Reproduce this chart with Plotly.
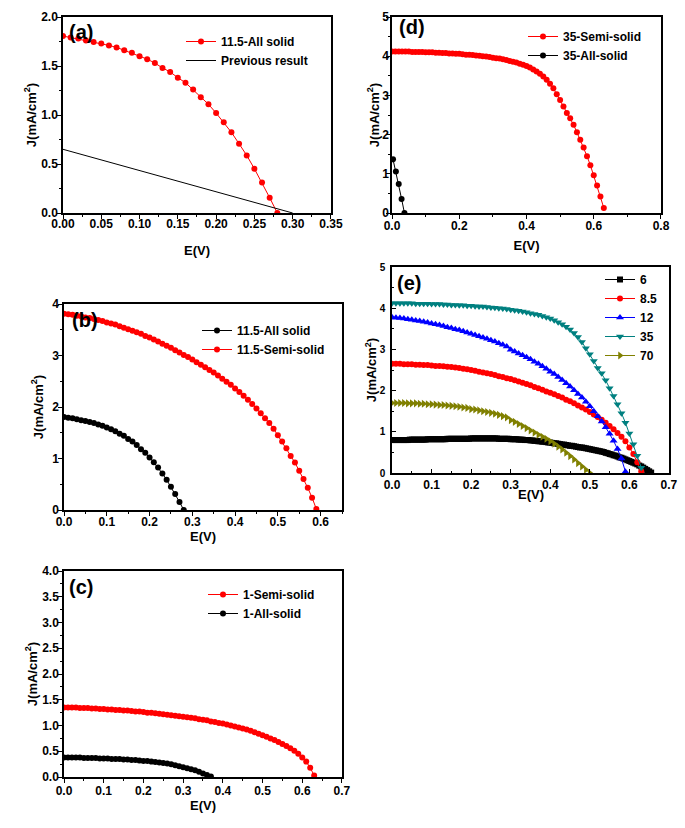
import plotly.graph_objects as go

# ---------------- data ----------------
# (a) 11.5-All solid
a_x = [i / 100 for i in range(29)]
a_j = [1.806, 1.79, 1.78, 1.76, 1.745, 1.73, 1.71, 1.69, 1.66, 1.635,
       1.60, 1.57, 1.53, 1.48, 1.44, 1.38, 1.33, 1.26, 1.18, 1.11,
       1.02, 0.925, 0.823, 0.707, 0.588, 0.452, 0.31, 0.156, 0.0]
prev_x = [0.0, 0.30]
prev_j = [0.65, 0.0]

# (b) 11.5-Semi-solid
b_semi_x = [i / 100 for i in range(60)]
b_semi_j = [3.81, 3.80, 3.79, 3.77, 3.76, 3.74, 3.73, 3.71, 3.69, 3.67,
            3.64, 3.62, 3.60, 3.57, 3.54, 3.51, 3.48, 3.45, 3.42, 3.38,
            3.35, 3.31, 3.27, 3.23, 3.19, 3.15, 3.10, 3.06, 3.01, 2.97,
            2.92, 2.87, 2.82, 2.77, 2.72, 2.67, 2.61, 2.55, 2.49, 2.43,
            2.36, 2.29, 2.22, 2.14, 2.06, 1.97, 1.88, 1.78, 1.69, 1.58,
            1.45, 1.33, 1.20, 1.05, 0.92, 0.76, 0.60, 0.43, 0.24, 0.02]

# (c)
c_semi_x = [i / 100 for i in range(64)]
c_semi_j = [1.35, 1.35, 1.35, 1.35, 1.34, 1.34, 1.34, 1.33, 1.33, 1.32,
            1.32, 1.31, 1.31, 1.30, 1.30, 1.29, 1.29, 1.28, 1.27, 1.27,
            1.26, 1.25, 1.25, 1.24, 1.23, 1.22, 1.21, 1.20, 1.19, 1.18,
            1.17, 1.16, 1.15, 1.14, 1.12, 1.11, 1.10, 1.08, 1.07, 1.05,
            1.04, 1.02, 1.00, 0.98, 0.96, 0.94, 0.92, 0.90, 0.87, 0.84,
            0.81, 0.78, 0.75, 0.72, 0.68, 0.64, 0.60, 0.56, 0.51, 0.45,
            0.38, 0.30, 0.18, 0.03]
c_all_x = [i / 100 for i in range(38)]
c_all_j = [0.38, 0.38, 0.38, 0.38, 0.38, 0.37, 0.37, 0.37, 0.37, 0.36,
           0.36, 0.36, 0.35, 0.35, 0.35, 0.34, 0.34, 0.33, 0.33, 0.32,
           0.31, 0.31, 0.30, 0.29, 0.28, 0.27, 0.26, 0.25, 0.23, 0.21,
           0.19, 0.17, 0.15, 0.13, 0.10, 0.07, 0.04, 0.01]

# (d) / (e) 35
d_semi_x = [i / 100 for i in range(64)]
d_semi_j = [4.12, 4.12, 4.12, 4.12, 4.12, 4.12, 4.11, 4.11, 4.11, 4.11,
            4.10, 4.10, 4.10, 4.09, 4.09, 4.08, 4.08, 4.07, 4.07, 4.06,
            4.06, 4.05, 4.04, 4.04, 4.03, 4.02, 4.01, 4.00, 3.99, 3.98,
            3.96, 3.95, 3.94, 3.92, 3.90, 3.88, 3.86, 3.84, 3.81, 3.78,
            3.75, 3.71, 3.66, 3.61, 3.55, 3.48, 3.40, 3.30, 3.18, 3.03,
            2.88, 2.72, 2.55, 2.42, 2.25, 2.06, 1.87, 1.67, 1.45, 1.22,
            0.96, 0.70, 0.42, 0.13]
d_all_x = [0.003, 0.0115, 0.02, 0.0285, 0.037]
d_all_j = [1.37, 1.06, 0.74, 0.36, 0.0]

# (e)
e6_x = [i / 200 for i in range(132)]
e6_j = [0.80, 0.80, 0.80, 0.80, 0.80, 0.80, 0.80, 0.80, 0.80, 0.81,
        0.81, 0.81, 0.81, 0.81, 0.81, 0.81, 0.81, 0.81, 0.82, 0.82,
        0.82, 0.82, 0.82, 0.82, 0.82, 0.82, 0.82, 0.82, 0.83, 0.83,
        0.83, 0.83, 0.83, 0.83, 0.83, 0.83, 0.83, 0.83, 0.83, 0.83,
        0.84, 0.84, 0.84, 0.84, 0.84, 0.84, 0.84, 0.84, 0.84, 0.84,
        0.84, 0.84, 0.84, 0.84, 0.83, 0.83, 0.83, 0.83, 0.83, 0.83,
        0.82, 0.82, 0.82, 0.82, 0.81, 0.81, 0.81, 0.80, 0.80, 0.80,
        0.79, 0.79, 0.78, 0.78, 0.77, 0.77, 0.76, 0.76, 0.75, 0.74,
        0.74, 0.73, 0.72, 0.72, 0.71, 0.70, 0.69, 0.69, 0.68, 0.67,
        0.66, 0.66, 0.65, 0.64, 0.63, 0.62, 0.62, 0.61, 0.60, 0.59,
        0.58, 0.57, 0.56, 0.55, 0.54, 0.53, 0.52, 0.51, 0.49, 0.48,
        0.46, 0.45, 0.43, 0.42, 0.40, 0.38, 0.37, 0.35, 0.33, 0.31,
        0.29, 0.27, 0.25, 0.23, 0.21, 0.18, 0.16, 0.13, 0.10, 0.07,
        0.04, 0.01]
e85_x = [i / 100 for i in range(64)]
e85_j = [2.65, 2.65, 2.65, 2.64, 2.64, 2.64, 2.63, 2.63, 2.62, 2.62,
         2.61, 2.60, 2.60, 2.59, 2.58, 2.57, 2.56, 2.55, 2.53, 2.52,
         2.50, 2.48, 2.46, 2.44, 2.42, 2.40, 2.38, 2.35, 2.33, 2.30,
         2.28, 2.25, 2.22, 2.19, 2.16, 2.13, 2.09, 2.06, 2.02, 1.98,
         1.95, 1.91, 1.87, 1.83, 1.78, 1.74, 1.69, 1.64, 1.59, 1.54,
         1.48, 1.42, 1.36, 1.29, 1.22, 1.14, 1.06, 0.97, 0.88, 0.77,
         0.62, 0.46, 0.26, 0.04]
e12_x = [i / 100 for i in range(60)]
e12_j = [3.78, 3.77, 3.76, 3.75, 3.73, 3.72, 3.70, 3.69, 3.67, 3.65,
         3.63, 3.61, 3.59, 3.57, 3.54, 3.52, 3.49, 3.47, 3.44, 3.41,
         3.38, 3.35, 3.32, 3.29, 3.26, 3.22, 3.19, 3.15, 3.11, 3.07,
         2.99, 2.95, 2.90, 2.86, 2.81, 2.76, 2.70, 2.65, 2.59, 2.53,
         2.46, 2.40, 2.33, 2.26, 2.18, 2.10, 2.01, 1.92, 1.83, 1.73,
         1.62, 1.50, 1.38, 1.25, 1.11, 0.95, 0.78, 0.58, 0.35, 0.03]
e35_x = d_semi_x
e35_j = d_semi_j
e70_x = [i / 100 for i in range(51)]
e70_j = [1.70, 1.70, 1.70, 1.70, 1.69, 1.69, 1.69, 1.68, 1.68, 1.67,
         1.67, 1.66, 1.65, 1.65, 1.64, 1.63, 1.62, 1.61, 1.59, 1.58,
         1.55, 1.54, 1.52, 1.50, 1.48, 1.46, 1.44, 1.41, 1.38, 1.35,
         1.28, 1.24, 1.19, 1.14, 1.09, 1.03, 0.98, 0.93, 0.88, 0.83,
         0.77, 0.71, 0.64, 0.57, 0.49, 0.41, 0.33, 0.24, 0.16, 0.08,
         0.00]

# ---------------- figure ----------------
W, H = 685, 828
FONT = "Liberation Sans, Arial, sans-serif"
RED = "#ff0000"
BLK = "#000000"


def px(x):
    return x / W


def py(y):
    return 1 - y / H


fig = go.Figure()


def line_marker(x, y, name, color, symbol, xa, ya, leg, size=6, lw=1):
    fig.add_trace(go.Scatter(
        x=x, y=y, name=name, mode="lines+markers",
        line=dict(color=color, width=lw),
        marker=dict(color=color, symbol=symbol, size=size, line=dict(width=0)),
        xaxis=xa, yaxis=ya, legend=leg))


# (a)
line_marker(a_x, a_j, "11.5-All solid", RED, "circle", "x", "y", "legend")
fig.add_trace(go.Scatter(x=prev_x, y=prev_j, name="Previous result", mode="lines",
                         line=dict(color=BLK, width=1), xaxis="x", yaxis="y",
                         legend="legend"))
# (b)
line_marker(a_x, a_j, "11.5-All solid", BLK, "circle", "x2", "y2", "legend2")
line_marker(b_semi_x, b_semi_j, "11.5-Semi-solid", RED, "circle", "x2", "y2", "legend2")
# (c)
line_marker(c_semi_x, c_semi_j, "1-Semi-solid", RED, "circle", "x3", "y3", "legend3")
line_marker(c_all_x, c_all_j, "1-All-solid", BLK, "circle", "x3", "y3", "legend3")
# (d)
line_marker(d_semi_x, d_semi_j, "35-Semi-solid", RED, "circle", "x4", "y4", "legend4")
line_marker(d_all_x, d_all_j, "35-All-solid", BLK, "circle", "x4", "y4", "legend4")
# (e)
line_marker(e6_x, e6_j, "6", BLK, "square", "x5", "y5", "legend5", size=6)
line_marker(e85_x, e85_j, "8.5", RED, "circle", "x5", "y5", "legend5", size=6)
line_marker(e12_x, e12_j, "12", "#0000ff", "triangle-up", "x5", "y5", "legend5", size=7)
line_marker(e35_x, e35_j, "35", "#008080", "triangle-down", "x5", "y5", "legend5", size=7)
line_marker(e70_x, e70_j, "70", "#808000", "triangle-right", "x5", "y5", "legend5", size=7)


def axis(dom, rng, dtick, minor, fmt, title, standoff, lab_off, tfsize=12, ticks="outside"):
    return dict(
        domain=dom, range=rng, dtick=dtick, tick0=0, tickformat=fmt,
        showline=True, linecolor="black", linewidth=1.5, mirror=True,
        ticks=ticks, ticklen=4, tickwidth=1, tickcolor="black",
        ticklabelstandoff=lab_off,
        minor=dict(dtick=minor, ticks=ticks, ticklen=2, tickwidth=1, tickcolor="black"),
        showgrid=False, zeroline=False, automargin=False,
        tickfont=dict(family=FONT, size=tfsize, color="black", weight="bold"),
        title=dict(text=title, standoff=standoff,
                   font=dict(family=FONT, size=13, color="black", weight="bold")),
    )


JT = "J(mA/cm<sup>2</sup>)"
ET = "E(V)"

panels = {
    # name: (x0, x1, ytop, ybot)
    "a": (63, 331, 17, 213),
    "b": (64, 342, 304, 510),
    "c": (64, 342, 571, 777),
    "d": (392, 661, 17, 213),
    "e": (392, 669, 267, 473),
}


def xd(p):
    x0, x1, _, _ = panels[p]
    return [px(x0), px(x1)]


def yd(p):
    _, _, t, b = panels[p]
    return [py(b), py(t)]


layout = dict(
    width=W, height=H, autosize=False,
    margin=dict(l=0, r=0, t=0, b=0, pad=0, autoexpand=False),
    paper_bgcolor="white", plot_bgcolor="white",
    font=dict(family=FONT, color="black"),
    xaxis=axis(xd("a"), [0, 0.3501], 0.05, 0.025, ".2f", ET, 16, -5),
    yaxis=axis(yd("a"), [0, 2.0], 0.5, 0.25, ".1f", JT, 2, -3),
    xaxis2=axis(xd("b"), [0, 0.65], 0.1, 0.05, ".1f", ET, 2, -4),
    yaxis2=axis(yd("b"), [0, 4], 1, 0.5, "d", JT, 6, -3),
    xaxis3=axis(xd("c"), [0, 0.7001], 0.1, 0.05, ".1f", ET, 0, -2),
    yaxis3=axis(yd("c"), [0, 4.0], 0.5, 0.25, ".1f", JT, 2, -3),
    xaxis4=axis(xd("d"), [0, 0.8001], 0.2, 0.1, ".1f", ET, 9, -3),
    yaxis4=axis(yd("d"), [0, 5], 1, 0.5, "d", JT, 0, -5),
    xaxis5=axis(xd("e"), [0, 0.7001], 0.1, 0.05, ".1f", "", 0, 0, ticks="inside"),
    yaxis5=axis(yd("e"), [0, 5], 1, 0.5, "d", JT, 0, 3, tfsize=10, ticks="inside"),
)
for i in range(2, 6):
    layout[f"xaxis{i}"]["anchor"] = f"y{i}"
    layout[f"yaxis{i}"]["anchor"] = f"x{i}"


def legend(xp, ytop):
    return dict(x=px(xp), y=py(ytop), xanchor="left", yanchor="top",
                bgcolor="rgba(0,0,0,0)", borderwidth=0,
                font=dict(family=FONT, size=12, color="black", weight="bold"),
                itemwidth=30, tracegroupgap=0)


layout["legend"] = legend(181, 27)
layout["legend2"] = legend(197, 316)
layout["legend3"] = legend(203, 580)
layout["legend4"] = legend(523, 22)
layout["legend5"] = legend(600, 265)

labels = [("(a)", 67, 32), ("(b)", 70, 320), ("(c)", 67, 587), ("(d)", 397, 27), ("(e)", 395, 283)]
annots = [
    dict(text=t, x=px(x), y=py(y), xref="paper", yref="paper", xanchor="left",
         yanchor="middle", showarrow=False,
         font=dict(family=FONT, size=20, color="black", weight="bold"))
    for t, x, y in labels
]
# x-axis title of panel (e) sits closer to its tick labels than a standoff allows
annots.append(dict(text=ET, x=0.5, y=py(494), xref="x5 domain", yref="paper",
                   xanchor="center", yanchor="middle", showarrow=False,
                   font=dict(family=FONT, size=13, color="black", weight="bold")))
layout["annotations"] = annots

fig.update_layout(**layout)
fig.write_html("out.html", config={"displayModeBar": False},
               post_script="document.body.style.margin='0';")
